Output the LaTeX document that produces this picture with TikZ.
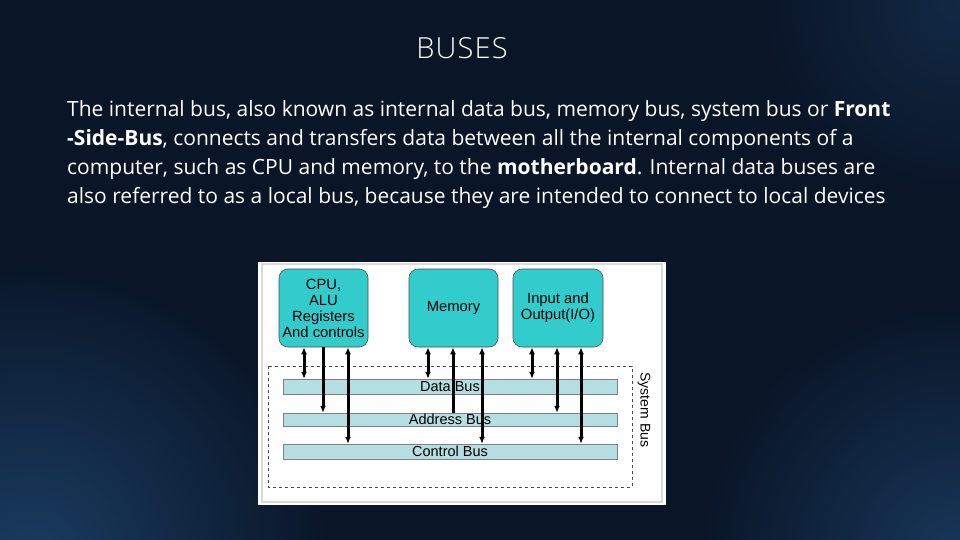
\documentclass[tikz,border=0pt]{standalone}
\usepackage{fontspec}
\setmainfont{Open Sans}
\newfontfamily\arialf{Liberation Sans}
\newfontfamily\titlef[LetterSpace=4]{Open Sans Light}
\usetikzlibrary{arrows.meta}
\definecolor{bg}{HTML}{0A1628}
\definecolor{bgl}{HTML}{1E4670}
\definecolor{teal}{HTML}{33CCCC}
\definecolor{busc}{HTML}{B4DEE2}
\begin{document}
\begin{tikzpicture}[x=1pt,y=-1pt,
  line/.style={font=\fontsize{21}{21}\selectfont,text=white,anchor=base west,inner sep=0},
  unit/.style={draw=black!70,fill=teal,rounded corners=9pt,line width=0.6pt,align=center,font=\arialf\fontsize{14.8}{16}\selectfont},
  bus/.style={draw=black!50,fill=busc,font=\arialf\fontsize{14.5}{14.5}\selectfont,inner sep=0},
  dbl/.style={{Latex[length=7pt,width=6pt]}-{Latex[length=7pt,width=6pt]},line width=3pt},
  sgl/.style={-{Latex[length=7pt,width=6pt]},line width=3pt}]
\fill[bg] (0,0) rectangle (960,540);
\begin{scope}
\clip (0,0) rectangle (960,540);
\shade[inner color=bgl,outer color=bg,opacity=0.8] (30,560) circle (300);
\shade[inner color=bgl,outer color=bg,opacity=0.7] (960,560) circle (260);
\shade[inner color=bgl,outer color=bg,opacity=0.4] (960,0) circle (200);
\end{scope}
\useasboundingbox (0,0) rectangle (960,540);
\node[text=white,font=\titlef\fontsize{29}{29}\selectfont] (title) at (462,48) {BUSES};
\node[line] (l1) at (67,117) {The internal bus, also known as internal data bus, memory bus, system bus or \textbf{Front}};
\node[line] (l2) at (67,146) {\textbf{-Side-Bus}, connects and transfers data between all the internal components of a};
\node[line] (l3) at (67,175) {computer, such as CPU and memory, to the \textbf{motherboard}. Internal data buses are};
\node[line] (l4) at (67,203) {also referred to as a local bus, because they are intended to connect to local devices};
\fill[white] (258,262) rectangle (666,505);
\draw[black!15,line width=2pt] (262,264) rectangle (662,502);
\draw[dashed,black!70,line width=0.6pt] (268,366) rectangle (632,487);
\node[unit,minimum width=89pt,minimum height=78pt] (cpu) at (323.5,308) {CPU,\\ALU\\Registers\\And controls};
\node[unit,minimum width=89pt,minimum height=78pt] (mem) at (453.5,308) {Memory};
\node[unit,minimum width=90pt,minimum height=78pt] (io) at (558,308) {Input and\\Output(I/O)};
\node[bus,minimum width=334pt,minimum height=15pt] (data) at (450,386.5) {Data Bus};
\node[bus,minimum width=334pt,minimum height=13pt] (addr) at (450,419.5) {Address Bus};
\node[bus,minimum width=334pt,minimum height=15pt] (ctrl) at (450,451.5) {Control Bus};
\node[rotate=-90,font=\arialf\fontsize{14}{14}\selectfont] (sys) at (644,410) {System Bus};
\draw[dbl] (cpu.south -| 304,0) -- (data.north -| 304,0);
\draw[sgl] (cpu.south -| 323,0) -- (addr.north -| 323,0);
\draw[dbl] (cpu.south -| 348,0) -- (ctrl.north -| 348,0);
\draw[dbl] (mem.south -| 428,0) -- (data.north -| 428,0);
\draw[sgl] (addr.north -| 453,0) -- (mem.south -| 453,0);
\draw[dbl] (mem.south -| 482,0) -- (ctrl.north -| 482,0);
\draw[dbl] (io.south -| 532,0) -- (data.north -| 532,0);
\draw[dbl] (io.south -| 557,0) -- (addr.north -| 557,0);
\draw[dbl] (io.south -| 581,0) -- (ctrl.north -| 581,0);
\end{tikzpicture}
\end{document}
